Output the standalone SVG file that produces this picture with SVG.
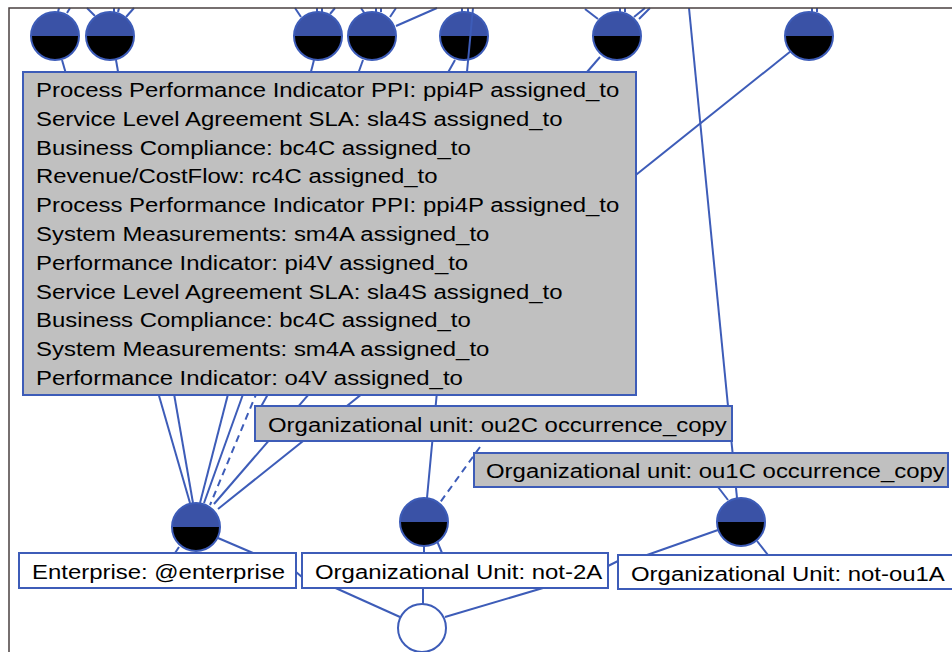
<svg xmlns="http://www.w3.org/2000/svg" width="952" height="652" viewBox="0 0 952 652">
  <style>
    .ln{stroke:#3d5cb8;stroke-width:2;fill:none}
    .dash{stroke-dasharray:7 5}
    .box{fill:#c0c0c0;stroke:#3d5cb8;stroke-width:2}
    .lbl{fill:#fff;stroke:#3d5cb8;stroke-width:2}
    text{font-family:"Liberation Sans",Arial,sans-serif;font-size:21px;fill:#000}
  </style>
  <defs>
    <g id="halfdisc">
      <path d="M-24,0 A24,24 0 0 1 24,0 Z" fill="#3a52a6"/>
      <path d="M-24,0 A24,24 0 0 0 24,0 Z" fill="#000"/>
      <circle r="24" fill="none" stroke="#3d5cb8" stroke-width="2"/>
    </g>
  </defs>

  <rect width="952" height="652" fill="#fff"/>

  <!-- occurrence nodes -->
  <g id="occ1"><use href="#halfdisc" x="55" y="36"/></g>
  <g id="occ2"><use href="#halfdisc" x="110" y="36"/></g>
  <g id="occ3"><use href="#halfdisc" x="318" y="36"/></g>
  <g id="occ4"><use href="#halfdisc" x="372" y="36"/></g>
  <g id="occ5"><use href="#halfdisc" x="464" y="36"/></g>
  <g id="occ6"><use href="#halfdisc" x="617" y="36"/></g>
  <g id="occ7"><use href="#halfdisc" x="809" y="36"/></g>
  <g id="occ-enterprise"><use href="#halfdisc" x="196" y="527"/></g>
  <g id="occ-ou2"><use href="#halfdisc" x="424" y="522"/></g>
  <g id="occ-ou1"><use href="#halfdisc" x="741" y="522"/></g>
  <g id="joint"><circle cx="422" cy="628" r="24" fill="#fff" stroke="#3d5cb8" stroke-width="2"/></g>

  <!-- connectors -->
  <g id="connectors">
    <line class="ln" x1="62" y1="60" x2="190" y2="503"/>
    <line class="ln" x1="116" y1="60" x2="193" y2="503"/>
    <line class="ln" x1="314" y1="60" x2="200" y2="503"/>
    <line class="ln" x1="363" y1="60" x2="204" y2="503"/>
    <line class="ln dash" x1="262" y1="380" x2="210" y2="505"/>
    <line class="ln" x1="455" y1="60" x2="258" y2="412"/>
    <line class="ln" x1="600" y1="57" x2="214" y2="504"/>
    <line class="ln" x1="791" y1="51" x2="218" y2="509"/>
    <line class="ln" x1="473" y1="8" x2="427" y2="498"/>
    <line class="ln" x1="689" y1="8" x2="737" y2="498"/>
    <line class="ln dash" x1="480" y1="447" x2="439" y2="504"/>
    <line class="ln" x1="396" y1="26" x2="437" y2="8"/>
    <!-- stubs above the top row -->
    <line class="ln" x1="58" y1="12" x2="59" y2="8"/>
    <line class="ln" x1="67" y1="13" x2="70" y2="8"/>
    <line class="ln" x1="95" y1="16" x2="87" y2="8"/>
    <line class="ln" x1="114" y1="12" x2="114" y2="8"/>
    <line class="ln" x1="118" y1="12" x2="119" y2="8"/>
    <line class="ln" x1="126" y1="17" x2="134" y2="8"/>
    <line class="ln" x1="301" y1="17" x2="295" y2="8"/>
    <line class="ln" x1="317" y1="12" x2="317" y2="8"/>
    <line class="ln" x1="322" y1="12" x2="322" y2="8"/>
    <line class="ln" x1="330" y1="14" x2="335" y2="8"/>
    <line class="ln" x1="365" y1="14" x2="361" y2="8"/>
    <line class="ln" x1="376" y1="12" x2="376" y2="8"/>
    <line class="ln" x1="381" y1="12" x2="381" y2="8"/>
    <line class="ln" x1="390" y1="17" x2="396" y2="8"/>
    <line class="ln" x1="462" y1="12" x2="462" y2="8"/>
    <line class="ln" x1="468" y1="12" x2="468" y2="8"/>
    <line class="ln" x1="598" y1="19" x2="585" y2="9"/>
    <line class="ln" x1="620" y1="12" x2="620" y2="8"/>
    <line class="ln" x1="625" y1="12" x2="625" y2="8"/>
    <line class="ln" x1="634" y1="17" x2="645" y2="8"/>
    <line class="ln" x1="639" y1="19" x2="650" y2="8"/>
    <line class="ln" x1="812" y1="12" x2="812" y2="8"/>
    <line class="ln" x1="817" y1="12" x2="817" y2="8"/>
    <!-- lower links -->
    <line class="ln" x1="179" y1="547" x2="175" y2="553"/>
    <line class="ln" x1="218" y1="538" x2="253" y2="553"/>
    <line class="ln" x1="424" y1="546" x2="424" y2="553"/>
    <line class="ln" x1="437" y1="541" x2="442" y2="553"/>
    <line class="ln" x1="718" y1="530" x2="647" y2="555"/>
    <line class="ln" x1="757" y1="541" x2="768" y2="555"/>
    <line class="ln" x1="718" y1="487" x2="728" y2="500"/>
    <line class="ln" x1="296" y1="572" x2="302" y2="577"/>
    <line class="ln" x1="608" y1="566" x2="618" y2="561"/>
    <line class="ln" x1="423" y1="588" x2="423" y2="604"/>
    <line class="ln" x1="320" y1="581" x2="400" y2="617"/>
    <line class="ln" x1="445" y1="617" x2="543" y2="588"/>
  </g>

  <!-- attribute list -->
  <g id="assignments">
    <rect class="box" x="23" y="72" width="613" height="323"/>
    <g transform="translate(36,0) scale(1.14,1)">
      <text x="0" y="97">Process Performance Indicator PPI: ppi4P assigned_to</text>
      <text x="0" y="125.8">Service Level Agreement SLA: sla4S assigned_to</text>
      <text x="0" y="154.6">Business Compliance: bc4C assigned_to</text>
      <text x="0" y="183.4">Revenue/CostFlow: rc4C assigned_to</text>
      <text x="0" y="212.2">Process Performance Indicator PPI: ppi4P assigned_to</text>
      <text x="0" y="241">System Measurements: sm4A assigned_to</text>
      <text x="0" y="269.8">Performance Indicator: pi4V assigned_to</text>
      <text x="0" y="298.6">Service Level Agreement SLA: sla4S assigned_to</text>
      <text x="0" y="327.4">Business Compliance: bc4C assigned_to</text>
      <text x="0" y="356.2">System Measurements: sm4A assigned_to</text>
      <text x="0" y="385">Performance Indicator: o4V assigned_to</text>
    </g>
  </g>

  <g id="ou2c">
    <rect class="box" x="255" y="406" width="477" height="35"/>
    <text transform="translate(268,432) scale(1.14,1)">Organizational unit: ou2C occurrence_copy</text>
  </g>

  <g id="ou1c">
    <rect class="box" x="474" y="453" width="474" height="34"/>
    <text transform="translate(486,478) scale(1.14,1)">Organizational unit: ou1C occurrence_copy</text>
  </g>

  <g id="enterprise">
    <rect class="lbl" x="19" y="553" width="277" height="35"/>
    <text transform="translate(32,579) scale(1.14,1)">Enterprise: @enterprise</text>
  </g>

  <g id="not-2a">
    <rect class="lbl" x="302" y="553" width="306" height="35"/>
    <text transform="translate(315,579) scale(1.14,1)">Organizational Unit: not-2A</text>
  </g>

  <g id="not-ou1a">
    <rect class="lbl" x="618" y="555" width="345" height="34"/>
    <text transform="translate(631,581) scale(1.14,1)">Organizational Unit: not-ou1A</text>
  </g>

  <!-- frame -->
  <path d="M9,652 V8 H952" fill="none" stroke="#4a4040" stroke-width="1.5"/>
</svg>
